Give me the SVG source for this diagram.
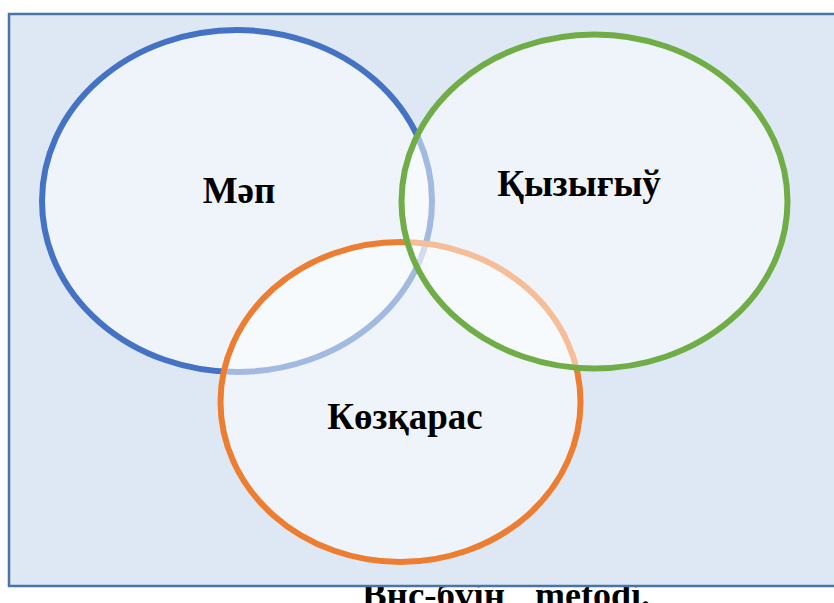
<svg xmlns="http://www.w3.org/2000/svg" width="834" height="603" viewBox="0 0 834 603">
<style>
.c{fill:#ffffff;fill-opacity:0.5;stroke-width:6}
.t{font-family:"Liberation Serif","Times New Roman",serif;font-weight:bold;fill:#000;text-anchor:middle}
.s{text-anchor:start}
</style>
<rect x="0" y="0" width="834" height="603" fill="#ffffff"/>
<text class="t s" x="362" y="607" font-size="36" textLength="143" lengthAdjust="spacingAndGlyphs">Bнс-бүін</text>
<text class="t s" x="535" y="607" font-size="36" textLength="115" lengthAdjust="spacingAndGlyphs">metodi.</text>
<rect id="frame" x="9" y="14" width="840" height="572" fill="#DEE8F4" stroke="#4A74A6" stroke-width="2.5"/>
<g id="mep"><ellipse class="c" cx="237" cy="201" rx="195" ry="171" stroke="#4472C4"/></g>
<g id="kozqaras"><ellipse class="c" cx="400.5" cy="402" rx="180" ry="160" stroke="#ED7D31"/></g>
<g id="qyzygyu"><ellipse class="c" cx="594.5" cy="201.5" rx="193" ry="167" stroke="#70AD47"/></g>
<g id="labels">
<text class="t" x="239" y="203" font-size="37">Мәп</text>
<text class="t" x="579" y="196" font-size="37">Қызығыў</text>
<text class="t" x="405" y="429" font-size="37">Көзқарас</text>
</g>
<g id="connectors"></g>
</svg>
